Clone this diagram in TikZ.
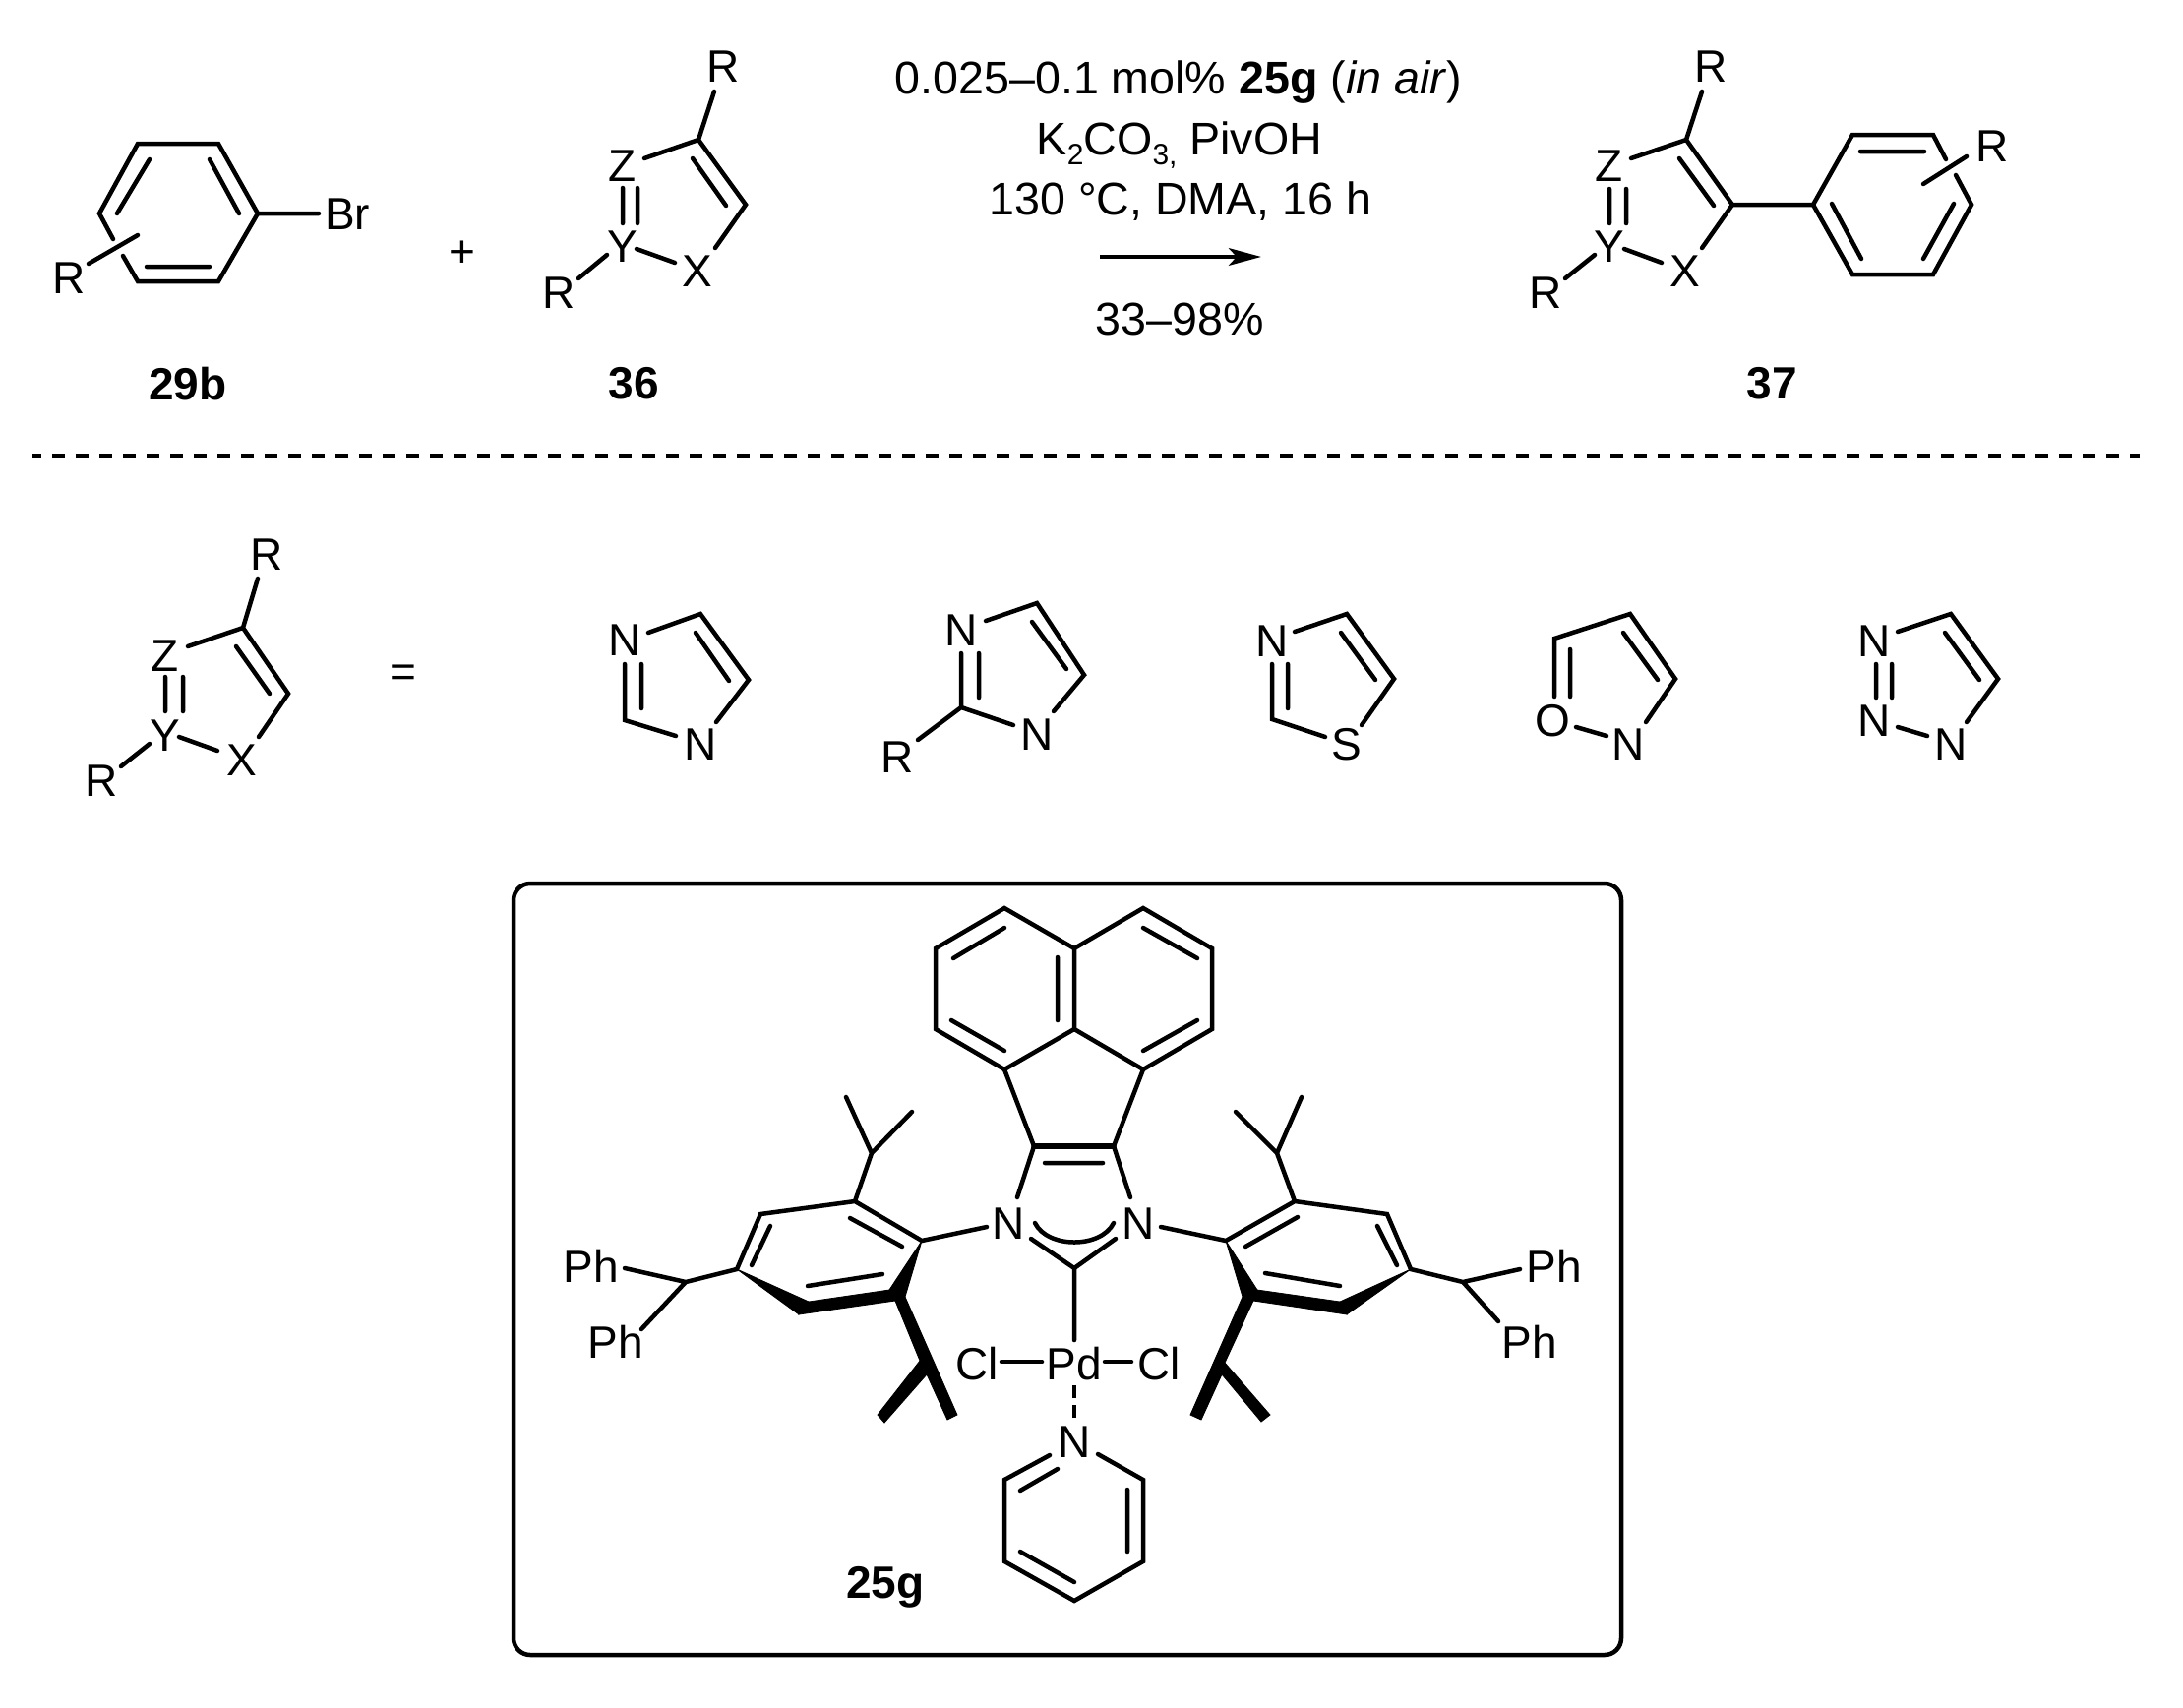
\documentclass[tikz,border=0pt]{standalone}
\usepackage{fontspec}
\setmainfont{Liberation Sans}
\usetikzlibrary{arrows.meta}
\newcommand{\chemfont}{\fontsize{23}{26}\selectfont}
\newcommand{\condfont}{\fontsize{23.3}{26}\selectfont}
\newcommand{\lowtxt}[1]{\raisebox{-5pt}{\fontsize{15}{16}\selectfont #1}}
\tikzset{
  bond/.style={line width=2.25pt,line cap=round,line join=miter},
  heavy/.style={fill=black,draw=black,line width=0.4pt,line join=miter},
  atom/.style={inner sep=0pt,font=\chemfont,yshift=-0.5pt},
  lbl/.style={inner sep=0pt,font=\chemfont\bfseries,yshift=-0.5pt},
  cond/.style={inner sep=0pt,anchor=base,font=\condfont},
  arrowline/.style={line width=2.25pt,-{Stealth[length=16.5pt,width=8.8pt,inset=4pt]}},
  sep/.style={line width=2.25pt,dash pattern=on 6.5pt off 5.5pt,dash phase=2pt},
  frame/.style={line width=2.25pt,rounded corners=8.5pt},
  coord/.style={line width=2.4pt,dash pattern=on 6.5pt off 3.5pt}
}
\begin{document}
\begin{tikzpicture}[x=0.5pt,y=-0.5pt]
\useasboundingbox (0,0) rectangle (2219,1735);
\fill[white] (0,0) rectangle (2219,1735);
% ---------- coordinates
\foreach \n/\x/\y in {
 a1/140/146,a2/222/146,a3/262/217,a4/222/286,a5/140/286,a6/101/217,a7/115/243,a8/125/260,
 ai1/152/162,ai2/119/217,ai3/213/162,ai4/243/217,ai5/149/271,ai6/213/271,abr/324/217,ar1/140/239,ar2/90/268,
 b1/710/142,b2/758/208,b3/726/93,b4/655/161,b5/704/161,b6/738/209,b7/727/252,
 b8/633/191,b9/633/227,b10/648/191,b11/648/227,b12/647/253,b13/686/267,b14/617/259,b15/588/283,
 d1/1714/142,d2/1761/208,d3/1730/93,d4/1658/161,d5/1707/161,d6/1742/209,d7/1730/252,
 d8/1636/192,d9/1636/227,d10/1653/192,d11/1653/227,d12/1651/253,d13/1689/267,d14/1621/259,d15/1591/283,
 e1/1843/208,e2/1883/137,e3/1965/137,e4/2004/208,e5/1965/279,e6/1883/279,e7/1978/162,e8/1988/178,
 e9/1999/159,e10/1955/187,e11/1891/154,e12/1956/154,e13/1862/207,e14/1892/263,e15/1986/207,e16/1955/263,
 ar/1118/261,ah/1282/261,s1/33/463,s2/2175/463,
 f1/247/638,f2/293/705,f3/262/588,f4/191/657,f5/240/657,f6/274/705,f7/263/749,
 f8/168/688,f9/168/723,f10/186/688,f11/186/723,f12/182/749,f13/221/763,f14/152/756,f15/123/779,
 g1/659/643,g2/712/624,g3/761/691,g4/707/643,g5/741/692,g6/728/734,g7/687/748,g8/635/732,g9/635/675,g10/652/675,g11/652/720,
 h1/1002/631,h2/1054/613,h3/1102/686,h4/1049/632,h5/1084/680,h6/1071/723,h7/1030/737,h8/977/719,h9/977/664,h10/995/664,h11/995/709,h12/933/752,
 i1/1316/642,i2/1369/624,i3/1417/690,i4/1363/643,i5/1398/691,i6/1384/737,i7/1347/749,i8/1293/731,i9/1293/675,i10/1309/675,i11/1309/720,
 j1/1580/708,j2/1580/649,j3/1657/624,j4/1703/690,j5/1673/734,j6/1650/643,j7/1685/691,j8/1596/660,j9/1596/708,j10/1602/739,j11/1633/748,
 k1/1929/642,k2/1983/624,k3/2031/690,k4/1977/643,k5/2012/691,k6/1999/734,k7/1907/675,k8/1907/709,k9/1923/675,k10/1923/709,k11/1929/739,k12/1959/748,
 m1/1021/923,m2/1092/964,m3/1162/923,m4/1232/964,m5/1232/1046,m6/1162/1087,m7/1092/1046,m8/1021/1087,m9/951/1046,m10/951/964,
 mi1/969/974,mi2/1021/943,mi3/1075/973,mi4/1075/1037,mi5/967/1037,mi6/1021/1068,mi7/1162/943,mi8/1217/974,mi9/1217/1037,mi10/1162/1068,
 n1/1051/1165,n2/1132/1165,n3/1062/1182,n4/1121/1182,n5/1034/1217,n6/1149/1217,
 n7/1052/1243,n8/1132/1243,n9/1065/1269,n10/1119/1269,n11/1048/1259,n12/1092/1289,n13/1134/1259,n14/1092/1362,
 p1/1018/1384,p2/1059/1384,p3/1123/1384,p4/1150/1384,p5/1092/1408,p6/1092/1443,
 q1/1067/1479,q2/1021/1504,q3/1021/1587,q4/1092/1627,q5/1162/1587,q6/1162/1504,q7/1116/1478,
 q8/1075/1493,q9/1037/1515,q10/1146/1514,q11/1146/1577,q12/1037/1577,q13/1092/1608,
 t1/1003/1247,t2/937/1261,t3/869/1221,t4/917/1267,t5/864/1238,t6/773/1234,t7/749/1290,t8/783/1246,t9/764/1286,
 t10/886/1172,t11/860/1115,t12/927/1130,t13/822/1323,t14/812/1336,t15/904/1311,t16/910/1322,t17/920/1318,t18/821/1307,t19/897/1295,
 t20/973/1438,t21/963/1443,t22/942/1397,t23/899/1446,t24/892/1438,t25/935/1383,
 t26/697/1303,t27/635/1289,t28/652/1351,
 u1/1180/1247,u2/1246/1261,u3/1316/1221,u4/1266/1267,u5/1319/1237,u6/1410/1234,u7/1434/1290,u8/1400/1246,u9/1420/1286,
 u10/1298/1172,u11/1323/1115,u12/1256/1130,u13/1362/1323,u14/1369/1336,u15/1278/1311,u16/1274/1322,u17/1263/1318,u18/1362/1307,u19/1286/1294,
 u20/1210/1438,u21/1221/1443,u22/1242/1397,u23/1282/1445,u24/1291/1438,u25/1245/1385,
 u26/1487/1303,u27/1545/1290,u28/1523/1343,
 w1/522/898,w2/1648/1682}
 {\coordinate (\n) at (\x,\y);}
% ---------- 29b
\draw[bond] (a7)--(a6)--(a1)--(a2)--(a3)--(a4)--(a5)--(a8);
\draw[bond] (ai1)--(ai2) (ai3)--(ai4) (ai5)--(ai6) (a3)--(abr) (ar1)--(ar2);
\node[atom] (Br1) at (353,217) {Br};
\node[atom] (R1) at (70,282) {R};
\node[atom] (plus) at (470,257) {+};
\node[lbl] (L29b) at (191,389) {29b};
% ---------- 36
\draw[bond] (b4)--(b1)--(b2)--(b7) (b1)--(b3) (b5)--(b6) (b8)--(b9) (b10)--(b11) (b12)--(b13) (b14)--(b15);
\node[atom] (R2) at (735,67) {R};
\node[atom] (Z1) at (633,168) {Z};
\node[atom] (Y1) at (633,250) {Y};
\node[atom] (X1) at (709,275) {X};
\node[atom] (R3) at (568,297) {R};
\node[lbl] (L36) at (644,389) {36};
% ---------- conditions
\node[cond] (c1) at (1198,95) {0.025–0.1 mol\% \textbf{25g} (\textit{in air})};
\node[cond] (c2) at (1199,157) {K\lowtxt{2}CO\lowtxt{3,} PivOH};
\node[cond] (c3) at (1200,218) {130 °C, DMA, 16 h};
\node[cond] (c4) at (1199,340) {33–98\%};
\draw[arrowline] (ar)--(ah);
% ---------- 37
\draw[bond] (d4)--(d1)--(d2)--(d7) (d1)--(d3) (d5)--(d6) (d8)--(d9) (d10)--(d11) (d12)--(d13) (d14)--(d15) (d2)--(e1);
\draw[bond] (e7)--(e3)--(e2)--(e1)--(e6)--(e5)--(e4)--(e8);
\draw[bond] (e9)--(e10) (e11)--(e12) (e13)--(e14) (e15)--(e16);
\node[atom] (R4) at (1739,67) {R};
\node[atom] (Z2) at (1636,168) {Z};
\node[atom] (Y2) at (1636,250) {Y};
\node[atom] (X2) at (1713,275) {X};
\node[atom] (R5) at (1571,297) {R};
\node[atom] (R6) at (2025,148) {R};
\node[lbl] (L37) at (1801,389) {37};
% ---------- separator
\draw[sep] (s1)--(s2);
% ---------- general ring
\draw[bond] (f4)--(f1)--(f2)--(f7) (f1)--(f3) (f5)--(f6) (f8)--(f9) (f10)--(f11) (f12)--(f13) (f14)--(f15);
\node[atom] (R7) at (271,563) {R};
\node[atom] (Z3) at (168,666) {Z};
\node[atom] (Y3) at (168,747) {Y};
\node[atom] (X3) at (246,772) {X};
\node[atom] (R8) at (103,793) {R};
\node[atom] (eq) at (410,686) {=};
% ---------- imidazole
\draw[bond] (g1)--(g2)--(g3)--(g6) (g4)--(g5) (g7)--(g8)--(g9) (g10)--(g11);
\node[atom] (N1) at (635,650) {N};
\node[atom] (N2) at (712,756) {N};
% ---------- 2-R imidazole
\draw[bond] (h1)--(h2)--(h3)--(h6) (h4)--(h5) (h7)--(h8)--(h9) (h10)--(h11) (h8)--(h12);
\node[atom] (N3) at (977,640) {N};
\node[atom] (N4) at (1054,746) {N};
\node[atom] (R9) at (912,769) {R};
% ---------- thiazole
\draw[bond] (i1)--(i2)--(i3)--(i6) (i4)--(i5) (i7)--(i8)--(i9) (i10)--(i11);
\node[atom] (N5) at (1293,651) {N};
\node[atom] (S1) at (1369,756) {S};
% ---------- isoxazole
\draw[bond] (j1)--(j2)--(j3)--(j4)--(j5) (j6)--(j7) (j8)--(j9) (j10)--(j11);
\node[atom] (O1) at (1578,732) {O};
\node[atom] (N6) at (1655,756) {N};
% ---------- triazole
\draw[bond] (k1)--(k2)--(k3)--(k6) (k4)--(k5) (k7)--(k8) (k9)--(k10) (k11)--(k12);
\node[atom] (N7) at (1905,651) {N};
\node[atom] (N8) at (1905,732) {N};
\node[atom] (N9) at (1983,756) {N};
% ---------- box
\draw[frame] (w1) rectangle (w2);
% ---------- acenaphthylene
\draw[bond] (m2)--(m1)--(m10)--(m9)--(m8)--(m7)--(m6)--(m5)--(m4)--(m3)--(m2)--(m7);
\draw[bond] (mi1)--(mi2) (mi3)--(mi4) (mi5)--(mi6) (mi7)--(mi8) (mi9)--(mi10);
\draw[bond] (n5)--(n1)--(m8) (n6)--(n2)--(m6) (n3)--(n4);
\draw[bond,line width=2.8pt] (n1)--(n2);
\draw[bond] (n7) .. controls (n9) and (n10) .. (n8);
\draw[bond] (n11)--(n12)--(n13) (n12)--(n14);
\node[atom] (N10) at (1025,1243) {N};
\node[atom] (N11) at (1157,1243) {N};
\node[atom] (Pd1) at (1092,1385) {Pd};
\node[atom] (Cl1) at (993,1385) {Cl};
\node[atom] (Cl2) at (1178,1385) {Cl};
\draw[bond] (p1)--(p2) (p3)--(p4);
\draw[coord] (p5)--(p6);
\node[atom] (N12) at (1092,1465) {N};
\draw[bond] (q1)--(q2)--(q3)--(q4)--(q5)--(q6)--(q7) (q8)--(q9) (q10)--(q11) (q12)--(q13);
\node[lbl,anchor=base] (L25g) at (900,1623) {25g};
% ---------- left aryl
\draw[bond] (t1)--(t2)--(t3)--(t6)--(t7)--(t26) (t4)--(t5) (t8)--(t9) (t3)--(t10) (t11)--(t10)--(t12) (t18)--(t19) (t27)--(t26)--(t28);
\fill[heavy] (t7)--(t13)--(t14)--cycle;
\fill[heavy] (t13)--(t15)--(t16)--(t14)--cycle;
\fill[heavy] (t2)--(t15)--(t16)--(t17)--cycle;
\fill[heavy] (t16)--(t17)--(t20)--(t21)--(t22)--(t23)--(t24)--(t25)--cycle;
\node[atom] (Ph1) at (601,1286) {Ph};
\node[atom] (Ph2) at (626,1363) {Ph};
% ---------- right aryl
\draw[bond] (u1)--(u2)--(u3)--(u6)--(u7)--(u26) (u4)--(u5) (u8)--(u9) (u3)--(u10) (u11)--(u10)--(u12) (u18)--(u19) (u27)--(u26)--(u28);
\fill[heavy] (u7)--(u13)--(u14)--cycle;
\fill[heavy] (u13)--(u15)--(u16)--(u14)--cycle;
\fill[heavy] (u2)--(u15)--(u16)--(u17)--cycle;
\fill[heavy] (u16)--(u17)--(u20)--(u21)--(u22)--(u23)--(u24)--(u25)--cycle;
\node[atom] (Ph3) at (1580,1286) {Ph};
\node[atom] (Ph4) at (1555,1363) {Ph};
\end{tikzpicture}
\end{document}
